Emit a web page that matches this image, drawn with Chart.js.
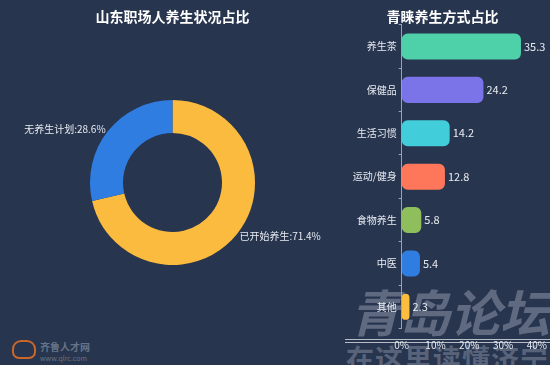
<!DOCTYPE html>
<html>
<head>
<meta charset="utf-8">
<script src="https://cdn.jsdelivr.net/npm/chart.js@4.4.1/dist/chart.umd.min.js"></script>
<style>
  html, body { margin: 0; padding: 0; }
  body {
    width: 550px; height: 365px; overflow: hidden; position: relative;
    background: #28354f;
    font-family: "Noto Sans CJK SC", "Noto Sans", sans-serif;
  }
  .box { position: absolute; top: 0; height: 365px; }
  #leftBox { left: 0; width: 345px; }
  #rightBox { left: 345px; width: 205px; }
  .wm { position: absolute; pointer-events: none; white-space: nowrap; }
</style>
</head>
<body>
<!-- watermark + logo, sit behind the transparent canvases -->
<div class="wm" style="left:350px; top:274px; font-size:50px; font-weight:bold; font-style:italic; color:rgba(150,160,178,0.5);">青岛论坛</div>
<div class="wm" style="left:345px; top:339px; width:205px; height:1px; background:rgba(230,235,240,0.75);"></div>
<div class="wm" style="left:345px; top:342px; width:205px; height:1px; background:rgba(230,235,240,0.75);"></div>
<div class="wm" style="left:346px; top:338px; font-size:28px; font-weight:bold; color:rgba(150,160,178,0.45); letter-spacing:1px;">在这里读懂济宁</div>
<div class="wm" style="left:12px; top:340px; width:20px; height:15px; border:2px solid #c9662a; border-radius:9px 9px 7px 7px;"></div>
<div class="wm" style="left:40px; top:339px; font-size:10px; font-weight:bold; color:rgba(120,132,150,0.8);">齐鲁人才网</div>
<div class="wm" style="left:40px; top:353px; font-size:7px; color:rgba(120,132,150,0.8);">www.qlrc.com</div>

<div class="box" id="leftBox"><canvas id="pieChart"></canvas></div>
<div class="box" id="rightBox"><canvas id="barChart"></canvas></div>

<script>
// --- data ---
const pieLabels = ['已开始养生', '无养生计划'];
const pieValues = [71.4, 28.6];
const pieColors = ['#fbbb3e', '#2f7de1'];

const barLabels = ['养生茶', '保健品', '生活习惯', '运动/健身', '食物养生', '中医', '其他'];
const barValues = [35.3, 24.2, 14.2, 12.8, 5.8, 5.4, 2.3];
const barColors = ['#4ed1a9', '#7b73e8', '#41cdd9', '#ff775a', '#8fbf5d', '#2f7de1', '#fbbd3d'];
const xTicks = [0, 10, 20, 30, 40];

const textColor = '#e8ecf2';
const cjkFont = '"Noto Sans CJK SC", "Noto Sans", sans-serif';

// labels outside the donut, at the middle of each slice
const pieLabelPlugin = {
    id: 'pieLabels',
    afterDatasetsDraw(chart) {
        const ctx = chart.ctx;
        const meta = chart.getDatasetMeta(0);
        ctx.save();
        ctx.font = '10px ' + cjkFont;
        ctx.fillStyle = textColor;
        ctx.textBaseline = 'middle';
        meta.data.forEach((arc, i) => {
            const p = arc.getProps(['x', 'y', 'startAngle', 'endAngle', 'outerRadius'], true);
            const mid = (p.startAngle + p.endAngle) / 2;
            const r = p.outerRadius + 3;
            const x = p.x + Math.cos(mid) * r;
            const y = p.y + Math.sin(mid) * r;
            ctx.textAlign = Math.cos(mid) >= 0 ? 'left' : 'right';
            ctx.fillText(pieLabels[i] + ':' + pieValues[i] + '%', x, y);
        });
        ctx.restore();
    }
};

// value text after each bar
const barValuePlugin = {
    id: 'barValues',
    afterDatasetsDraw(chart) {
        const ctx = chart.ctx;
        const meta = chart.getDatasetMeta(0);
        ctx.save();
        ctx.font = '11px ' + cjkFont;
        ctx.fillStyle = textColor;
        ctx.textAlign = 'left';
        ctx.textBaseline = 'middle';
        meta.data.forEach((bar, i) => {
            ctx.fillText(barValues[i].toString(), bar.x + 3, bar.y);
        });
        ctx.restore();
    }
};

Chart.defaults.font.family = cjkFont;
Chart.defaults.color = textColor;

new Chart(document.getElementById('pieChart'), {
    type: 'doughnut',
    data: {
        labels: pieLabels,
        datasets: [{
            data: pieValues,
            backgroundColor: pieColors,
            borderWidth: 0
        }]
    },
    options: {
        responsive: true,
        maintainAspectRatio: false,
        animation: false,
        cutout: '60%',
        layout: { padding: { top: 0, bottom: 100, left: 0, right: 0 } },
        plugins: {
            legend: { display: false },
            tooltip: { enabled: false },
            title: {
                display: true,
                text: '山东职场人养生状况占比',
                color: '#ffffff',
                font: { size: 14, weight: 'bold' },
                padding: { top: 8, bottom: 75.2 }
            }
        }
    },
    plugins: [pieLabelPlugin]
});

new Chart(document.getElementById('barChart'), {
    type: 'bar',
    data: {
        labels: barLabels,
        datasets: [{
            data: barValues,
            backgroundColor: barColors,
            borderRadius: 6,
            borderSkipped: false,
            borderWidth: 0,
            categoryPercentage: 1,
            barPercentage: 0.6
        }]
    },
    options: {
        indexAxis: 'y',
        responsive: true,
        maintainAspectRatio: false,
        animation: false,
        layout: { padding: { top: 0, bottom: 10.5, left: 0, right: 10 } },
        scales: {
            x: {
                min: 0,
                max: 40,
                afterBuildTicks(axis) {
                    axis.ticks = xTicks.map(v => ({ value: v }));
                },
                grid: { display: false },
                border: { display: false },
                ticks: {
                    color: textColor,
                    padding: 3,
                    font: { size: 10 },
                    callback: v => v + '%'
                }
            },
            y: {
                afterFit(axis) { axis.width = 56.7; },
                grid: {
                    display: true,
                    drawOnChartArea: false,
                    offset: true,
                    tickLength: 3,
                    color: '#9aa3b4'
                },
                border: { display: true, color: '#9aa3b4', width: 1 },
                ticks: {
                    color: textColor,
                    padding: 2,
                    font: { size: 10 }
                }
            }
        },
        plugins: {
            legend: { display: false },
            tooltip: { enabled: false },
            title: {
                display: true,
                text: '青睐养生方式占比',
                color: '#ffffff',
                font: { size: 14, weight: 'bold' },
                padding: { top: 8, bottom: 0 }
            }
        }
    },
    plugins: [barValuePlugin]
});
</script>
</body>
</html>
